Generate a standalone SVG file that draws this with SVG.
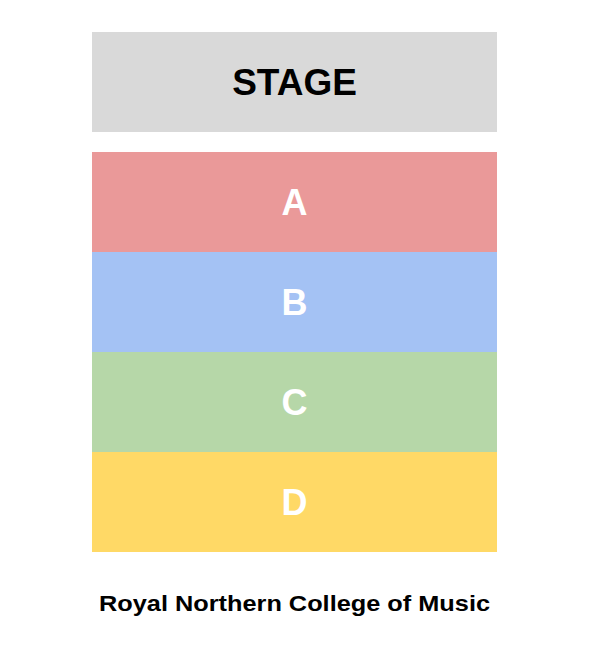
<svg xmlns="http://www.w3.org/2000/svg" width="592" height="655" viewBox="0 0 592 655">
<style>
text{font-family:"Liberation Sans",Arial,sans-serif;font-weight:bold;text-anchor:middle}
.sec{fill:#fff;font-size:36px}
</style>
<rect width="592" height="655" fill="#fff"/>
<g id="stage"><rect x="92" y="32" width="405" height="100" fill="#d9d9d9"/><text x="294.5" y="95" font-size="37" fill="#000">STAGE</text></g>
<g id="A"><rect x="92" y="152" width="405" height="100" fill="#ea9999"/><text class="sec" x="294.5" y="215">A</text></g>
<g id="B"><rect x="92" y="252" width="405" height="100" fill="#a4c2f4"/><text class="sec" x="294.5" y="315">B</text></g>
<g id="C"><rect x="92" y="352" width="405" height="100" fill="#b6d7a8"/><text class="sec" x="294.5" y="415">C</text></g>
<g id="D"><rect x="92" y="452" width="405" height="100" fill="#ffd966"/><text class="sec" x="294.5" y="515">D</text></g>
<g id="connectors"/>
<text x="294.5" y="611" font-size="22" fill="#000" textLength="391" lengthAdjust="spacingAndGlyphs">Royal Northern College of Music</text>
</svg>
